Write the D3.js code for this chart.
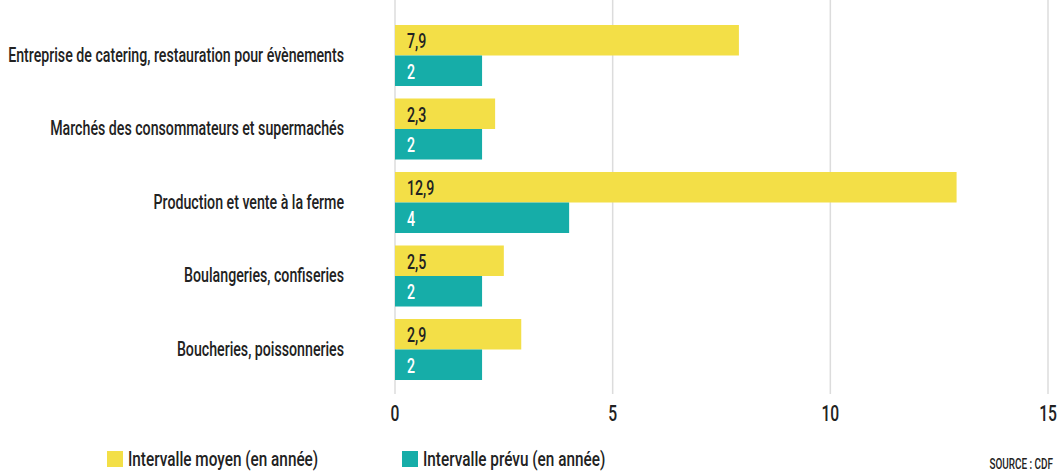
<!DOCTYPE html>
<html>
<head>
<meta charset="utf-8">
<script src="https://cdn.jsdelivr.net/npm/d3@7"></script>
<style>
  body { margin: 0; background: #fff; }
  svg text { font-family: Roboto, "DejaVu Sans", sans-serif; font-weight: 500; }
</style>
</head>
<body>
<div id="chart"></div>
<script>
const categories = [
  "Entreprise de catering, restauration pour évènements",
  "Marchés des consommateurs et supermachés",
  "Production et vente à la ferme",
  "Boulangeries, confiseries",
  "Boucheries, poissonneries"
];
const moyen = [7.9, 2.3, 12.9, 2.5, 2.9];
const prevu = [2, 2, 4, 2, 2];
const xTicks = [0, 5, 10, 15];
const seriesNames = ["Intervalle moyen (en année)", "Intervalle prévu (en année)"];
const colors = ["#f3df47", "#16ada8"];

const width = 1058, height = 473;

const svg = d3.select("#chart").append("svg")
  .attr("width", width)
  .attr("height", height);

// the reference uses a very condensed face: squeeze text horizontally
function squeeze(sel, k) {
  sel.each(function() {
    const t = d3.select(this);
    const tx = +t.attr("x") || 0, ty = +t.attr("y") || 0;
    t.attr("x", 0).attr("y", 0)
      .attr("transform", "translate(" + tx + "," + ty + ") scale(" + k + ",1)");
  });
}

const x = d3.scaleLinear().domain([0, 15]).range([395, 1048]);

const y = d3.scaleBand()
  .domain(categories)
  .range([18.75, 386.25])
  .paddingInner(0.17)
  .paddingOuter(0.085);

const sub = d3.scaleBand()
  .domain([0, 1])
  .range([0, y.bandwidth()]);

// gridlines
svg.append("g")
  .selectAll("line")
  .data(xTicks)
  .enter()
  .append("line")
  .attr("x1", d => x(d))
  .attr("x2", d => x(d))
  .attr("y1", 0)
  .attr("y2", 394)
  .attr("stroke", "#dcdcdc")
  .attr("stroke-width", 1.5);

// category labels
const catLabels = svg.append("g")
  .selectAll("text")
  .data(categories)
  .enter()
  .append("text")
  .attr("x", 344)
  .attr("y", d => y(d) + y.bandwidth() / 2 + 6)
  .attr("text-anchor", "end")
  .attr("font-size", 20)
  .attr("fill", "#222")
  .text(d => d);

const k = 336 / catLabels.node().getComputedTextLength();
squeeze(catLabels, k);

// tick labels
const tickLabels = svg.append("g")
  .selectAll("text")
  .data(xTicks)
  .enter()
  .append("text")
  .attr("x", d => x(d))
  .attr("y", 421)
  .attr("text-anchor", "middle")
  .attr("font-size", 22)
  .attr("fill", "#222")
  .text(d => d);
squeeze(tickLabels, k);

const rows = categories.map((c, i) => ({ c, vals: [moyen[i], prevu[i]] }));

const groups = svg.append("g")
  .selectAll("g")
  .data(rows)
  .enter()
  .append("g")
  .attr("transform", d => "translate(0," + y(d.c) + ")");

groups.selectAll("rect")
  .data(d => d.vals.map((v, j) => ({ v, j })))
  .enter()
  .append("rect")
  .attr("x", x(0))
  .attr("y", d => sub(d.j))
  .attr("width", d => x(d.v) - x(0))
  .attr("height", sub.bandwidth())
  .attr("fill", d => colors[d.j]);

const valLabels = groups.selectAll("text")
  .data(d => d.vals.map((v, j) => ({ v, j })))
  .enter()
  .append("text")
  .attr("x", x(0) + 12)
  .attr("y", d => sub(d.j) + sub.bandwidth() / 2 + 8)
  .attr("font-size", 20)
  .attr("fill", d => d.j === 0 ? "#222" : "#fff")
  .text(d => String(d.v).replace(".", ","));
squeeze(valLabels, k);

// legend
const legendX = [107, 402];
const legend = svg.append("g")
  .selectAll("g")
  .data(seriesNames)
  .enter()
  .append("g")
  .attr("transform", (d, i) => "translate(" + legendX[i] + ",451)");

legend.append("rect")
  .attr("width", 16)
  .attr("height", 16)
  .attr("fill", (d, i) => colors[i]);

const legText = legend.append("text")
  .attr("x", 21)
  .attr("y", 15)
  .attr("font-size", 21)
  .attr("fill", "#222")
  .text(d => d);
squeeze(legText, k * 1.03);

const src = svg.append("text")
  .attr("x", 1053)
  .attr("y", 469)
  .attr("text-anchor", "end")
  .attr("font-size", 14)
  .attr("fill", "#222")
  .text("SOURCE : CDF");
squeeze(src, k);
</script>
</body>
</html>
